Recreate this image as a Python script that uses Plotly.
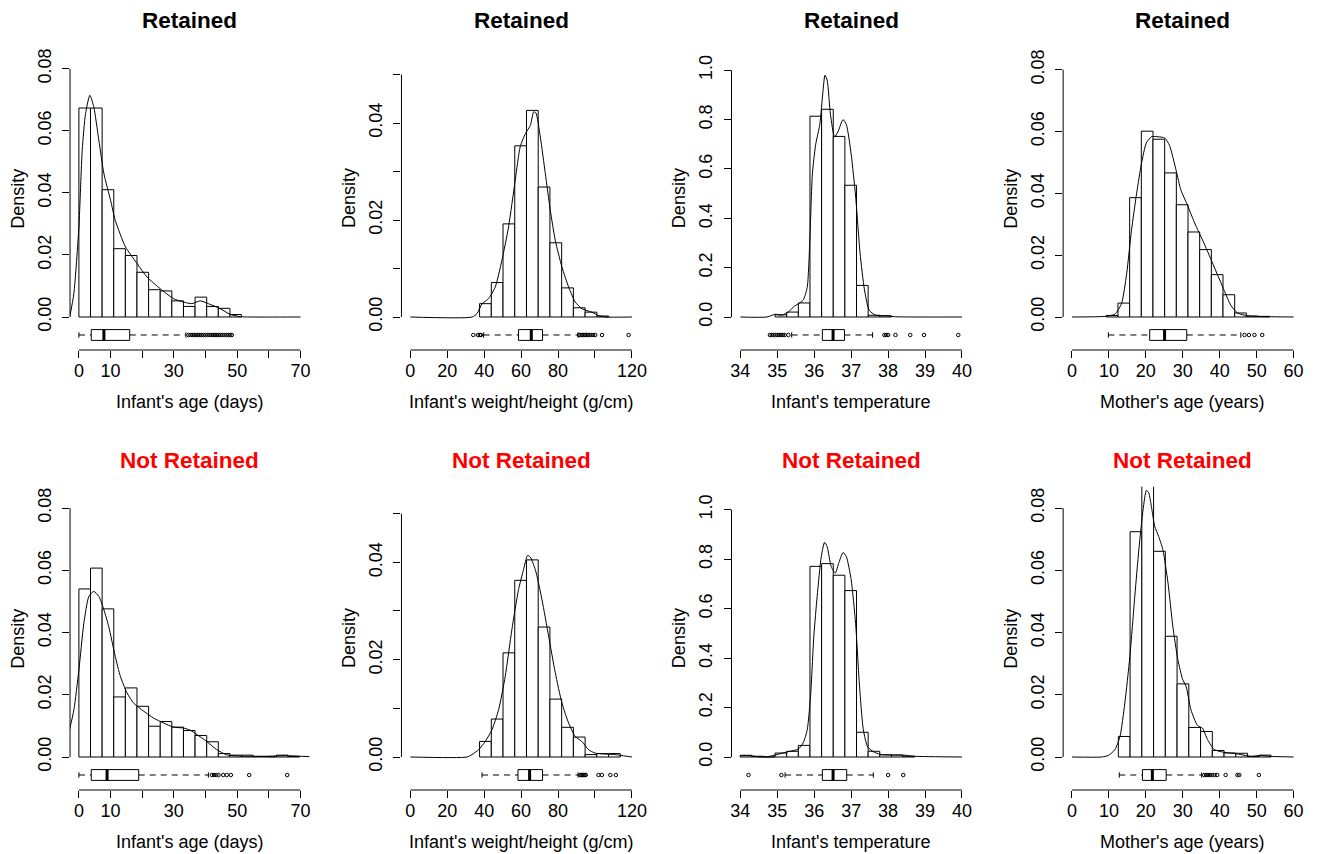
import plotly.graph_objects as go

# ------------------------------------------------------------------ data
# Retained: infant's age (days)
age_ret_breaks = [0, 3.67, 7.34, 11.01, 14.68, 18.35, 22.02, 25.69, 29.36, 33.03, 36.7, 40.37, 44.04, 47.71, 51.38]
age_ret_density = [0.0673, 0.0673, 0.0410, 0.0220, 0.0198, 0.0144, 0.0088, 0.0084, 0.0052, 0.0034, 0.0064, 0.0034, 0.0028, 0.0008]
age_ret_kde_x = [-2.9, -1.6, 0, 1.05, 2.1, 3.46, 4.7, 6.3, 7.9, 10.0, 11.5, 14.7, 18.4, 21.5, 25.7, 29.9, 33.1, 35.7, 38.3, 40.9, 44.6, 47.7, 50.9, 54, 70]
age_ret_kde_y = [0.0, 0.0075, 0.029, 0.0537, 0.0655, 0.0714, 0.0677, 0.0569, 0.0462, 0.0376, 0.0311, 0.0226, 0.0172, 0.0129, 0.0091, 0.0059, 0.0048, 0.0043, 0.0052, 0.0043, 0.0027, 0.0009, 0.0001, 0.0, 0.0]
age_ret_box = [0, 3.9, 7.9, 16.05, 33.8]
age_ret_outliers = [34.6, 35.2, 35.8, 36.4, 37.0, 37.6, 38.2, 38.8, 39.4, 40.0, 40.6, 41.2, 41.8, 42.4, 43.0, 43.6, 44.2, 44.8, 45.4, 46.0, 46.6, 47.2, 47.8, 48.3]

# Retained: infant's weight/height (g/cm)
wh_ret_breaks = [37.5, 43.85, 50.2, 56.55, 62.9, 69.25, 75.6, 81.95, 88.3, 94.65, 101.0, 107.35]
wh_ret_density = [0.00275, 0.0071, 0.0192, 0.0353, 0.0426, 0.0268, 0.0153, 0.0060, 0.0019, 0.0010, 0.0002]
wh_ret_kde_x = [0, 33.4, 36.1, 38.8, 42.4, 46, 49.6, 53.2, 56.8, 59.5, 62.3, 65, 66.8, 68, 70.4, 73.1, 75.8, 78.5, 82.1, 85.7, 89.3, 92.9, 98.3, 102, 105.6, 120]
wh_ret_kde_y = [0, 0, 0.0007, 0.0027, 0.0038, 0.0062, 0.0117, 0.0186, 0.0282, 0.0351, 0.0378, 0.0395, 0.0423, 0.0421, 0.0371, 0.0296, 0.0220, 0.0158, 0.0103, 0.0062, 0.0031, 0.0017, 0.0010, 0.0003, 0, 0]
wh_ret_box = [39.7, 58.6, 65.5, 71.6, 90.8]
wh_ret_outliers = [34.1, 36.6, 37.6, 38.2, 91.4, 92.2, 93.0, 93.8, 94.6, 95.4, 96.2, 97.0, 98.0, 99.0, 100.1, 103.8, 118.2]

# Retained: infant's temperature
temp_ret_breaks = [34.94, 35.255, 35.57, 35.885, 36.2, 36.515, 36.83, 37.145, 37.46, 37.775, 38.09]
temp_ret_density = [0.009, 0.020, 0.057, 0.814, 0.842, 0.732, 0.534, 0.128, 0.007, 0.005]
temp_ret_kde_x = [34, 34.72, 34.94, 35.12, 35.3, 35.43, 35.57, 35.7, 35.81, 35.88, 35.95, 36.04, 36.15, 36.24, 36.29, 36.35, 36.44, 36.55, 36.64, 36.78, 36.87, 37.0, 37.12, 37.24, 37.36, 37.49, 37.67, 37.94, 38.2, 40]
temp_ret_kde_y = [0, 0, 0.011, 0.007, 0.02, 0.04, 0.054, 0.068, 0.12, 0.31, 0.58, 0.70, 0.78, 0.92, 0.98, 0.96, 0.82, 0.73, 0.75, 0.80, 0.78, 0.66, 0.49, 0.26, 0.11, 0.027, 0.007, 0.005, 0.001, 0]
temp_ret_box = [35.39, 36.22, 36.51, 36.82, 37.58]
temp_ret_outliers = [34.8, 34.85, 34.9, 34.95, 35.0, 35.05, 35.1, 35.15, 35.2, 35.3, 37.9, 37.95, 38.0, 38.2, 38.6, 38.97, 39.9]

# Retained: mother's age (years)
mage_ret_breaks = [9.29, 12.45, 15.61, 18.77, 21.93, 25.09, 28.25, 31.41, 34.57, 37.73, 40.89, 44.05, 47.21, 50.37, 53.53]
mage_ret_density = [0.0005, 0.0045, 0.0386, 0.0601, 0.0575, 0.0466, 0.0363, 0.0275, 0.0218, 0.0137, 0.0072, 0.0013, 0.0003, 0.0002]
mage_ret_kde_x = [0, 8.96, 11.6, 13.4, 14.8, 16.1, 17.5, 18.8, 20.1, 21.5, 23.3, 25.1, 26.4, 28.2, 29.5, 31.3, 33.1, 35.8, 38.5, 41.2, 43, 44.8, 47.5, 52.8, 60]
mage_ret_kde_y = [0, 0.0002, 0.0009, 0.0043, 0.014, 0.028, 0.040, 0.0496, 0.0562, 0.0583, 0.0583, 0.0579, 0.0555, 0.0474, 0.041, 0.0361, 0.0307, 0.0237, 0.0162, 0.0086, 0.0038, 0.0013, 0.0004, 0.0001, 0]
mage_ret_box = [9.85, 21.04, 25.07, 31.07, 45.7]
mage_ret_outliers = [46.7, 47.9, 49.4, 51.5]

# Not retained: infant's age (days)
age_nr_breaks = [0, 3.67, 7.34, 11.01, 14.68, 18.35, 22.02, 25.69, 29.36, 33.03, 36.7, 40.37, 44.04, 47.71, 51.38, 55.05, 58.72, 62.39, 66.06, 69.73]
age_nr_density = [0.0540, 0.0607, 0.0476, 0.0193, 0.0222, 0.0163, 0.0099, 0.0114, 0.0096, 0.0085, 0.0069, 0.0049, 0.0011, 0.0006, 0.0006, 0.0002, 0.0001, 0.0006, 0.0002]
age_nr_kde_x = [-2.94, -1.57, 0, 1.57, 3.15, 4.7, 6.3, 7.9, 9.4, 11.5, 13.1, 15.2, 17.3, 20.5, 23.6, 26.8, 29.9, 33.1, 35.2, 37.3, 40.4, 43.5, 46.7, 50.9, 57.2, 65.6, 73.1]
age_nr_kde_y = [0.0088, 0.0152, 0.028, 0.043, 0.0516, 0.0532, 0.0516, 0.0473, 0.042, 0.0323, 0.0259, 0.0206, 0.0173, 0.0147, 0.0125, 0.0109, 0.0096, 0.0093, 0.0086, 0.0072, 0.005, 0.0024, 0.0007, 0.0003, 0.0002, 0.0004, 0.0001]
age_nr_box = [0, 3.9, 8.9, 18.9, 40.9]
age_nr_outliers = [42.0, 42.7, 43.4, 44.1, 45.6, 46.7, 48.0, 53.8, 65.8]

# Not retained: infant's weight/height (g/cm)
wh_nr_breaks = [37.5, 43.85, 50.2, 56.55, 62.9, 69.25, 75.6, 81.95, 88.3, 94.65, 101.0, 107.35, 113.7]
wh_nr_density = [0.0032, 0.0078, 0.0214, 0.0363, 0.0405, 0.0267, 0.0119, 0.0061, 0.0041, 0.0005, 0.0007, 0.0007]
wh_nr_kde_x = [0, 30.7, 33.4, 37, 40.6, 44.2, 47.8, 51.4, 55, 58.6, 61.3, 63.5, 64.9, 67.7, 71.3, 74.9, 78.5, 82.1, 85.7, 89.3, 92.9, 96.5, 100.1, 105.6, 111, 114.6, 120]
wh_nr_kde_y = [0, 0, 0.0005, 0.0015, 0.0032, 0.0056, 0.0097, 0.0166, 0.0262, 0.0344, 0.0385, 0.0414, 0.0411, 0.0385, 0.0323, 0.0248, 0.0173, 0.0111, 0.0070, 0.0042, 0.0032, 0.0015, 0.0008, 0.0006, 0.0005, 0.0003, 0]
wh_nr_box = [38.8, 58.3, 64.6, 71.6, 90.8]
wh_nr_outliers = [92.0, 92.6, 93.2, 93.8, 94.4, 95.0, 101.9, 103.7, 108.3, 111.3]

# Not retained: infant's temperature
temp_nr_breaks = [33.995, 34.31, 34.625, 34.94, 35.255, 35.57, 35.885, 36.2, 36.515, 36.83, 37.145, 37.46, 37.775, 38.09, 38.405, 38.72]
temp_nr_density = [0.007, 0.003, 0.0, 0.016, 0.023, 0.047, 0.771, 0.782, 0.735, 0.673, 0.100, 0.023, 0.009, 0.008, 0.003]
temp_nr_kde_x = [34.0, 34.27, 34.54, 34.8, 35.07, 35.34, 35.57, 35.7, 35.81, 35.9, 35.99, 36.08, 36.19, 36.28, 36.35, 36.46, 36.57, 36.67, 36.78, 36.87, 37.0, 37.12, 37.22, 37.33, 37.45, 37.63, 37.85, 38.21, 38.48, 38.7, 40]
temp_nr_kde_y = [0.005, 0.005, 0.0, 0.003, 0.013, 0.023, 0.032, 0.057, 0.11, 0.245, 0.49, 0.65, 0.81, 0.868, 0.85, 0.77, 0.744, 0.787, 0.827, 0.81, 0.717, 0.54, 0.30, 0.11, 0.04, 0.019, 0.009, 0.008, 0.007, 0.003, 0]
temp_nr_box = [35.21, 36.22, 36.51, 36.88, 37.6]
temp_nr_outliers = [34.22, 35.11, 38.0, 38.41]

# Not retained: mother's age (years)
mage_nr_breaks = [12.55, 15.73, 18.91, 22.09, 25.27, 28.45, 31.63, 34.81, 37.99, 41.17, 44.35, 47.53, 50.71, 53.89]
mage_nr_density = [0.0066, 0.0724, 0.0905, 0.0661, 0.0388, 0.0235, 0.0095, 0.0082, 0.0021, 0.0013, 0.0012, 0.0002, 0.0006]
mage_nr_kde_x = [0, 8.06, 9.85, 11.64, 13.0, 14.3, 15.67, 17.0, 18.1, 19.25, 20.15, 20.8, 21.5, 22.4, 23.46, 24.6, 26, 27.3, 28.66, 30, 30.9, 32.2, 34.0, 35.3, 36.7, 38.5, 41.2, 44.8, 48.4, 51, 53.7, 60]
mage_nr_kde_y = [0, 0, 0.0005, 0.0024, 0.0066, 0.0173, 0.0323, 0.0516, 0.0666, 0.0795, 0.0857, 0.0848, 0.0805, 0.0741, 0.0709, 0.0666, 0.0559, 0.042, 0.0313, 0.0248, 0.0227, 0.0152, 0.0101, 0.0093, 0.0056, 0.0024, 0.0015, 0.001, 0.0002, 0.0005, 0.0002, 0]
mage_nr_box = [12.8, 19.07, 21.76, 25.5, 35.1]
mage_nr_outliers = [35.8, 36.3, 36.8, 37.4, 38.0, 38.6, 39.3, 41.6, 44.8, 45.3, 50.6]

# tick labels
age_ticks = [0, 10, 20, 30, 40, 50, 60, 70]
age_ticklabels = ["0", "10", "", "30", "", "50", "", "70"]
wh_ticks = [0, 20, 40, 60, 80, 100, 120]
wh_ticklabels = ["0", "20", "40", "60", "80", "", "120"]
temp_ticks = [34, 35, 36, 37, 38, 39, 40]
temp_ticklabels = ["34", "35", "36", "37", "38", "39", "40"]
mage_ticks = [0, 10, 20, 30, 40, 50, 60]
mage_ticklabels = ["0", "10", "20", "30", "40", "50", "60"]
dens8_ticks = [0, 0.02, 0.04, 0.06, 0.08]
dens8_ticklabels = ["0.00", "0.02", "0.04", "0.06", "0.08"]
dens5_ticks = [0, 0.01, 0.02, 0.03, 0.04, 0.05]
dens5_ticklabels = ["0.00", "", "0.02", "", "0.04", ""]
dens1_ticks = [0, 0.2, 0.4, 0.6, 0.8, 1.0]
dens1_ticklabels = ["0.0", "0.2", "0.4", "0.6", "0.8", "1.0"]

titles = ["Retained", "Retained", "Retained", "Retained",
          "Not Retained", "Not Retained", "Not Retained", "Not Retained"]
xlabels = ["Infant's age (days)", "Infant's weight/height (g/cm)", "Infant's temperature", "Mother's age (years)"] * 2

# ------------------------------------------------------------------ layout config
W, H = 1319, 854
FONT = "Liberation Sans, Arial, Helvetica, sans-serif"
FS = 18
LEFTS = [69.4, 402.6, 734.4, 1067.8]
PW = 240.6
ROW_TOP = [46.7, 486.7]
PH = 303.3
ZERO_OFF = 33.0          # px between plot bottom and density 0
BOX_C, BOX_H = 15.0, 5.4  # box centre above plot bottom, half height (px)

panels = [
    dict(br=age_ret_breaks, d=age_ret_density, kx=age_ret_kde_x, ky=age_ret_kde_y, box=age_ret_box, out=age_ret_outliers,
         xt=age_ticks, xl=age_ticklabels, xr=[-2.8, 72.8], yt=dens8_ticks, yl=dens8_ticklabels, scale=3105),
    dict(br=wh_ret_breaks, d=wh_ret_density, kx=wh_ret_kde_x, ky=wh_ret_kde_y, box=wh_ret_box, out=wh_ret_outliers,
         xt=wh_ticks, xl=wh_ticklabels, xr=[-4.8, 124.8], yt=dens5_ticks, yl=dens5_ticklabels, scale=4850),
    dict(br=temp_ret_breaks, d=temp_ret_density, kx=temp_ret_kde_x, ky=temp_ret_kde_y, box=temp_ret_box, out=temp_ret_outliers,
         xt=temp_ticks, xl=temp_ticklabels, xr=[33.76, 40.24], yt=dens1_ticks, yl=dens1_ticklabels, scale=246.7),
    dict(br=mage_ret_breaks, d=mage_ret_density, kx=mage_ret_kde_x, ky=mage_ret_kde_y, box=mage_ret_box, out=mage_ret_outliers,
         xt=mage_ticks, xl=mage_ticklabels, xr=[-2.4, 62.4], yt=dens8_ticks, yl=dens8_ticklabels, scale=3092),
    dict(br=age_nr_breaks, d=age_nr_density, kx=age_nr_kde_x, ky=age_nr_kde_y, box=age_nr_box, out=age_nr_outliers,
         xt=age_ticks, xl=age_ticklabels, xr=[-2.8, 72.8], yt=dens8_ticks, yl=dens8_ticklabels, scale=3112),
    dict(br=wh_nr_breaks, d=wh_nr_density, kx=wh_nr_kde_x, ky=wh_nr_kde_y, box=wh_nr_box, out=wh_nr_outliers,
         xt=wh_ticks, xl=wh_ticklabels, xr=[-4.8, 124.8], yt=dens5_ticks, yl=dens5_ticklabels, scale=4867),
    dict(br=temp_nr_breaks, d=temp_nr_density, kx=temp_nr_kde_x, ky=temp_nr_kde_y, box=temp_nr_box, out=temp_nr_outliers,
         xt=temp_ticks, xl=temp_ticklabels, xr=[33.76, 40.24], yt=dens1_ticks, yl=dens1_ticklabels, scale=247.3),
    dict(br=mage_nr_breaks, d=mage_nr_density, kx=mage_nr_kde_x, ky=mage_nr_kde_y, box=mage_nr_box, out=mage_nr_outliers,
         xt=mage_ticks, xl=mage_ticklabels, xr=[-2.4, 62.4], yt=dens8_ticks, yl=dens8_ticklabels, scale=3112),
]


def suffix(n):
    return "" if n == 1 else str(n)


fig = go.Figure()
layout = dict(width=W, height=H, margin=dict(l=0, r=0, t=0, b=0),
              paper_bgcolor="white", plot_bgcolor="white", showlegend=False,
              barmode="overlay", font=dict(family=FONT, size=FS, color="black"))
shapes, annotations = [], []
line_k = dict(color="black", width=1)

for i, p in enumerate(panels):
    n = i + 1
    nb = n + 8
    xa, ya, yb = "x" + suffix(n), "y" + suffix(n), "y" + str(nb)
    row, col = divmod(i, 4)
    left = LEFTS[col]
    top = ROW_TOP[row]
    bottom = top + PH
    scale = p["scale"]

    # histogram
    br = p["br"]
    centers = [(a + b) / 2 for a, b in zip(br[:-1], br[1:])]
    widths = [b - a for a, b in zip(br[:-1], br[1:])]
    fig.add_trace(go.Bar(x=centers, y=p["d"], width=widths, xaxis=xa, yaxis=ya,
                         marker=dict(color="white", line=line_k), hoverinfo="skip"))
    # density curve
    fig.add_trace(go.Scatter(x=p["kx"], y=p["ky"], mode="lines", xaxis=xa, yaxis=ya,
                             line=dict(color="black", width=1, shape="spline", smoothing=0.6),
                             hoverinfo="skip"))
    # boxplot (on overlay axis measured in px above the plot bottom)
    lw, q1, med, q3, uw = p["box"]
    c, h = BOX_C, BOX_H
    fig.add_trace(go.Scatter(x=[q1, q3, q3, q1, q1], y=[c - h, c - h, c + h, c + h, c - h],
                             mode="lines", line=line_k, xaxis=xa, yaxis=yb, hoverinfo="skip"))
    fig.add_trace(go.Scatter(x=[lw, q1, None, q3, uw], y=[c, c, None, c, c], mode="lines",
                             line=dict(color="black", width=1, dash="6px,5px"),
                             xaxis=xa, yaxis=yb, hoverinfo="skip"))
    fig.add_trace(go.Scatter(x=[lw, lw, None, uw, uw], y=[c - h / 2, c + h / 2, None, c - h / 2, c + h / 2],
                             mode="lines", line=line_k, xaxis=xa, yaxis=yb, hoverinfo="skip"))
    fig.add_trace(go.Scatter(x=[med, med], y=[c - h, c + h], mode="lines",
                             line=dict(color="black", width=3), xaxis=xa, yaxis=yb, hoverinfo="skip"))
    fig.add_trace(go.Scatter(x=p["out"], y=[c] * len(p["out"]), mode="markers",
                             marker=dict(symbol="circle-open", size=3.5, color="black", line=dict(width=1)),
                             xaxis=xa, yaxis=yb, hoverinfo="skip"))

    xdom = [left / W, (left + PW) / W]
    ydom = [1 - bottom / H, 1 - top / H]
    layout["xaxis" + suffix(n)] = dict(
        domain=xdom, range=p["xr"], anchor=ya, showgrid=False, zeroline=False, showline=False,
        ticks="outside", ticklen=7, tickwidth=1, tickcolor="black",
        tickmode="array", tickvals=p["xt"], ticktext=p["xl"], ticklabelstandoff=-3,
        tickfont=dict(family=FONT, size=FS, color="black"), fixedrange=True)
    layout["yaxis" + suffix(n)] = dict(
        domain=ydom, range=[-ZERO_OFF / scale, (PH - ZERO_OFF) / scale], anchor=xa,
        showgrid=False, zeroline=False, showline=False,
        ticks="outside", ticklen=7, tickwidth=1, tickcolor="black", tickangle=-90,
        tickmode="array", tickvals=p["yt"], ticktext=p["yl"], ticklabelstandoff=4,
        tickfont=dict(family=FONT, size=FS, color="black"), fixedrange=True)
    layout["yaxis" + str(nb)] = dict(
        overlaying=ya, anchor=xa, range=[0, PH], visible=False, showgrid=False,
        zeroline=False, fixedrange=True)

    # axis lines spanning first to last tick (R style)
    shapes.append(dict(type="line", xref=xa, yref=ya + " domain", x0=p["xt"][0], x1=p["xt"][-1],
                       y0=0, y1=0, line=line_k))
    shapes.append(dict(type="line", xref=xa + " domain", yref=ya, x0=0, x1=0,
                       y0=p["yt"][0], y1=p["yt"][-1], line=line_k))

    cx = (left + PW / 2) / W
    annotations.append(dict(text="<b>" + titles[i] + "</b>", x=cx, y=1 - (top - 26.5) / H,
                            xref="paper", yref="paper", showarrow=False, xanchor="center", yanchor="middle",
                            font=dict(family=FONT, size=22.5, color="black" if row == 0 else "#FF0000")))
    annotations.append(dict(text=xlabels[i], x=cx, y=1 - (bottom + 52) / H,
                            xref="paper", yref="paper", showarrow=False, xanchor="center", yanchor="middle",
                            font=dict(family=FONT, size=FS, color="black")))
    annotations.append(dict(text="Density", x=(left - 52) / W, y=1 - (top + PH / 2) / H,
                            xref="paper", yref="paper", showarrow=False, xanchor="center", yanchor="middle",
                            textangle=-90, font=dict(family=FONT, size=FS, color="black")))

layout["shapes"] = shapes
layout["annotations"] = annotations
fig.update_layout(**layout)
fig.write_html("out.html")
